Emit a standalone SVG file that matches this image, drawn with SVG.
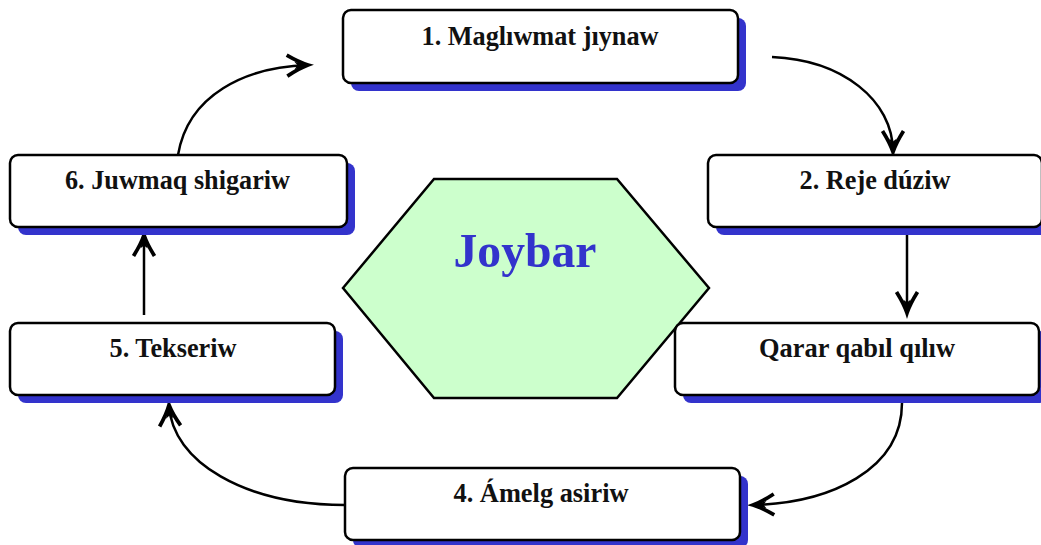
<svg xmlns="http://www.w3.org/2000/svg" width="1041" height="545" viewBox="0 0 1041 545">
<defs>
<style>
.shadow{fill:#3333cc;}
.box{fill:#ffffff;stroke:#000000;stroke-width:2.5;}
.lbl{font-family:"Liberation Serif","Times New Roman",serif;font-weight:bold;font-size:27.5px;fill:#111111;text-anchor:middle;}
.conn{fill:none;stroke:#000000;stroke-width:2.5;}
.title{font-family:"Liberation Serif","Times New Roman",serif;font-weight:bold;font-size:49px;fill:#3333cc;text-anchor:middle;}
</style>
<marker id="arr" markerUnits="userSpaceOnUse" markerWidth="30" markerHeight="30" viewBox="-16 -10 20 20" refX="0" refY="0" orient="auto" overflow="visible">
<path d="M -14 -7 Q -6 -2 0 0 Q -6 2 -14 7" fill="none" stroke="#000" stroke-width="2.5" stroke-linejoin="miter"/>
<path d="M 0 0 L -9 -2.5 L -7 0 L -9 2.5 Z" fill="#000"/>
</marker>
</defs>
<rect width="1041" height="545" fill="#ffffff"/>

<g id="connectors">
<path class="conn" d="M772 57 C 842 60, 893 100, 893 152" marker-end="url(#arr)"/>
<path class="conn" d="M907 235 L 907 313" marker-end="url(#arr)"/>
<path class="conn" d="M902 403 C 902 470, 830 503, 753 505" marker-end="url(#arr)"/>
<path class="conn" d="M345 505 C 245 505, 172 462, 169 405" marker-end="url(#arr)"/>
<path class="conn" d="M144 315 L 144 235" marker-end="url(#arr)"/>
<path class="conn" d="M178 155 C 188 95, 245 67, 308 65" marker-end="url(#arr)"/>
</g>

<g id="center">
<polygon points="343,288 434,179 617,179 709,288 617,398 434,398" fill="#ccffcc" stroke="#000" stroke-width="2.5"/>
<text class="title" x="525" y="267" textLength="143" lengthAdjust="spacingAndGlyphs">Joybar</text>
</g>

<g id="node1">
<rect class="shadow" x="351" y="18" width="395" height="73" rx="8"/>
<rect class="box" x="343" y="10" width="395" height="73" rx="8"/>
<text class="lbl" x="540" y="45" textLength="237" lengthAdjust="spacingAndGlyphs">1. Maglıwmat jıynaw</text>
</g>

<g id="node2">
<rect class="shadow" x="716" y="163" width="334" height="72" rx="8"/>
<rect class="box" x="708" y="155" width="334" height="72" rx="8"/>
<text class="lbl" x="875" y="189" textLength="151" lengthAdjust="spacingAndGlyphs">2. Reje dúziw</text>
</g>

<g id="node3">
<rect class="shadow" x="683" y="331" width="364" height="72" rx="8"/>
<rect class="box" x="675" y="323" width="364" height="72" rx="8"/>
<text class="lbl" x="857" y="357" textLength="196" lengthAdjust="spacingAndGlyphs">Qarar qabıl qılıw</text>
</g>

<g id="node4">
<rect class="shadow" x="353" y="476" width="395" height="72" rx="8"/>
<rect class="box" x="345" y="468" width="395" height="72" rx="8"/>
<text class="lbl" x="541" y="502" textLength="175" lengthAdjust="spacingAndGlyphs">4. Ámelg asiriw</text>
</g>

<g id="node5">
<rect class="shadow" x="18" y="331" width="325" height="72" rx="8"/>
<rect class="box" x="10" y="323" width="325" height="72" rx="8"/>
<text class="lbl" x="173" y="357" textLength="127" lengthAdjust="spacingAndGlyphs">5. Tekseriw</text>
</g>

<g id="node6">
<rect class="shadow" x="18" y="163" width="337" height="72" rx="8"/>
<rect class="box" x="10" y="155" width="337" height="72" rx="8"/>
<text class="lbl" x="177.5" y="189" textLength="225" lengthAdjust="spacingAndGlyphs">6. Juwmaq shigariw</text>
</g>
</svg>
